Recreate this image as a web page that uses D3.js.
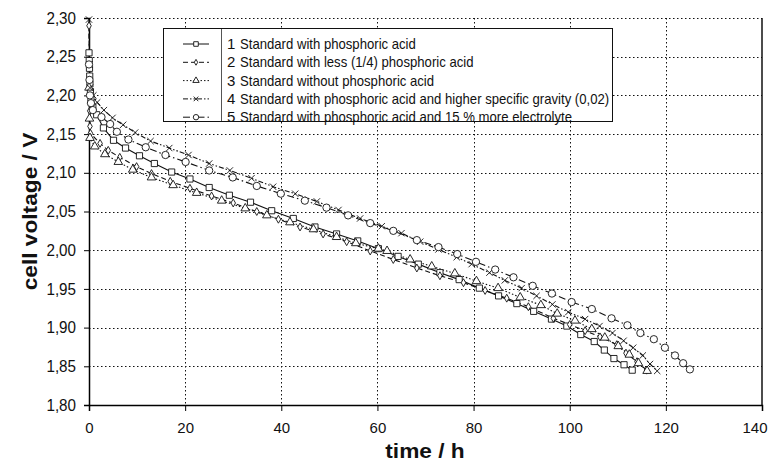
<!DOCTYPE html>
<html>
<head>
<meta charset="utf-8">
<script src="https://cdn.jsdelivr.net/npm/d3@7"></script>
<style>
    body { margin: 0; background: #fff; }
    text { font-family: Arial, "Liberation Sans", sans-serif; fill: #111; }
</style>
</head>
<body>
<svg width="774" height="463"></svg>
<script>
/////////////////////////////////
// Discharge curves: cell voltage over time.
//

const xTicks = [0, 20, 40, 60, 80, 100, 120, 140];
const yTicks = [1.80, 1.85, 1.90, 1.95, 2.00, 2.05, 2.10, 2.15, 2.20, 2.25, 2.30];

const legendLabels = [
    "Standard with phosphoric acid",
    "Standard with less (1/4) phosphoric acid",
    "Standard without phosphoric acid",
    "Standard with phosphoric acid and higher specific gravity (0,02)",
    "Standard with phosphoric acid and 15 % more electrolyte"
];

// [time h, voltage V]
const series1 = [[0,2.255],[0.05,2.245],[0.1,2.235],[0.15,2.225],[0.2,2.215],[0.3,2.205],[0.4,2.195],[0.8,2.185],[1.6,2.175],[3.0,2.158],[5.1,2.142],[7.6,2.132],[10.5,2.122],[13.6,2.112],[17.2,2.101],[21,2.092],[25,2.081],[29.2,2.071],[33.6,2.062],[38,2.051],[42.5,2.041],[47,2.030],[51.5,2.021],[55.9,2.012],[60.2,2.002],[64.3,1.992],[68.5,1.982],[73,1.971],[77,1.962],[81.2,1.951],[85.2,1.941],[89,1.931],[92.5,1.921],[96.2,1.911],[99.4,1.902],[102.3,1.891],[105.1,1.882],[107.2,1.871],[109.2,1.860],[111.3,1.852],[113,1.845]];
const series2 = [[0,2.29],[0.1,2.22],[0.15,2.18],[0.2,2.16],[0.3,2.151],[2.3,2.138],[4,2.129],[6.4,2.120],[9.9,2.108],[13,2.099],[16.9,2.089],[21,2.080],[25.5,2.070],[30,2.061],[34.9,2.050],[39.4,2.040],[43.9,2.030],[48.7,2.021],[53.6,2.011],[58.5,1.999],[63.3,1.988],[68.2,1.977],[73,1.967],[77.9,1.958],[82.4,1.948],[86.9,1.938],[91.4,1.927],[96.6,1.912],[100,1.904],[103.2,1.896],[106.3,1.888],[109.8,1.878],[111.7,1.867],[114,1.856],[116,1.845]];
const series3 = [[0,2.21],[0.1,2.17],[0.2,2.145],[1.2,2.134],[3.3,2.124],[6.1,2.114],[9.1,2.104],[13,2.094],[17.5,2.084],[22.4,2.074],[27.6,2.064],[32.5,2.054],[37,2.045],[41.8,2.036],[46.7,2.027],[51.5,2.017],[55.5,2.009],[60.2,2.002],[62,1.999],[66.8,1.988],[71.3,1.979],[76.1,1.970],[80.6,1.960],[85.1,1.951],[89.7,1.939],[94,1.929],[97.4,1.918],[101.1,1.909],[104.6,1.898],[107.3,1.887],[110.1,1.876],[112.4,1.865],[114.3,1.854],[116.1,1.844]];
const series4 = [[0,2.298],[0.1,2.24],[0.2,2.21],[0.9,2.200],[1.7,2.191],[3.1,2.181],[4.9,2.171],[7.1,2.162],[9.6,2.152],[12.8,2.141],[16.7,2.132],[20.7,2.123],[25,2.112],[29.3,2.103],[33.8,2.093],[38.3,2.082],[42.9,2.073],[47.4,2.063],[51.9,2.052],[56.4,2.041],[60.9,2.031],[65,2.022],[68.9,2.011],[72.7,2.001],[76.5,1.991],[79.6,1.982],[83.3,1.971],[86.5,1.961],[90,1.951],[93.1,1.941],[96.4,1.930],[99.7,1.920],[103.2,1.911],[106.2,1.902],[108.9,1.893],[111.2,1.883],[113.2,1.874],[115.2,1.864],[116.7,1.853],[118.2,1.844]];
const series5 = [[0,2.24],[0.1,2.22],[0.2,2.20],[0.4,2.19],[0.8,2.181],[2.6,2.172],[4.4,2.163],[5.8,2.153],[8.2,2.143],[11.8,2.133],[15.9,2.123],[20.1,2.114],[25,2.103],[29.9,2.094],[34.9,2.083],[39.9,2.073],[44.9,2.064],[49.4,2.055],[53.9,2.045],[58.5,2.035],[63.3,2.025],[68.2,2.013],[72.7,2.004],[76.6,1.995],[80.5,1.985],[84.5,1.975],[88.3,1.965],[92.3,1.954],[96.3,1.944],[100.4,1.933],[104.6,1.924],[108.7,1.912],[112,1.903],[114.7,1.893],[117.5,1.885],[119.8,1.874],[121.9,1.864],[123.6,1.854],[125,1.846]];

const allSeries = [series1, series2, series3, series4, series5];

// Line dash and marker per series.
const dashes = ["none", "5,3", "1.5,2", "5,2,1.5,2,1.5,2", "7,3,1.5,3"];
const symbolTypes = [d3.symbolSquare, d3.symbolDiamond, d3.symbolTriangle, d3.symbolTimes || d3.symbolX, d3.symbolCircle];
const symbolSizes = [38, 18, 32, 28, 42];

const svg = d3.select("svg");
const margin = { left: 89, right: 12, top: 18, bottom: 58 };
const width = 774;
const height = 463;

const x = d3.scaleLinear().domain([0, 140]).range([margin.left, width - margin.right]);
const y = d3.scaleLinear().domain([1.80, 2.30]).range([height - margin.bottom, margin.top]);

const fmt = (v) => d3.format(".2f")(v).replace(".", ",");

// Squeeze or stretch a text element to a share of its own width.
function scaleText(sel, factor) {

    sel.each(function () {

        const w = this.getComputedTextLength();
        d3.select(this)
            .attr("textLength", w * factor)
            .attr("lengthAdjust", "spacingAndGlyphs");
    });
}

// Grid (dotted).
svg.append("g")
    .selectAll("line")
    .data(yTicks.slice(1))
    .enter()
    .append("line")
    .attr("x1", x(0))
    .attr("x2", x(140))
    .attr("y1", (d) => Math.round(y(d)) + 0.5)
    .attr("y2", (d) => Math.round(y(d)) + 0.5)
    .style("stroke", "#111")
    .style("stroke-width", 1)
    .style("stroke-dasharray", "1.5,2.5");

svg.append("g")
    .selectAll("line")
    .data(xTicks.slice(1, -1))
    .enter()
    .append("line")
    .attr("x1", (d) => Math.round(x(d)) + 0.5)
    .attr("x2", (d) => Math.round(x(d)) + 0.5)
    .attr("y1", y(2.30))
    .attr("y2", y(1.80))
    .style("stroke", "#111")
    .style("stroke-width", 1)
    .style("stroke-dasharray", "1.5,2.5");

// Right border.
svg.append("line")
    .attr("x1", x(140)).attr("x2", x(140))
    .attr("y1", y(2.30)).attr("y2", y(1.80))
    .style("stroke", "#111").style("stroke-width", 1.5);

// Axes.
const xAxis = svg.append("g")
    .attr("transform", `translate(0,${y(1.80)})`)
    .call(d3.axisBottom(x).tickValues(xTicks).tickSize(6).tickFormat(d3.format("d")));
xAxis.select(".domain").style("stroke-width", 1.5);
xAxis.selectAll("text").style("font-size", "15px").attr("dy", "1.25em");
// Keep the last label inside the page.
xAxis.selectAll("text").filter((d) => d === 140)
    .attr("text-anchor", "end")
    .attr("x", 5);

const yAxis = svg.append("g")
    .attr("transform", `translate(${x(0)},0)`)
    .call(d3.axisLeft(y).tickValues(yTicks).tickSize(5).tickFormat(fmt));
yAxis.select(".domain").style("stroke-width", 1.5);
yAxis.selectAll("text").style("font-size", "16px").attr("x", -13);
scaleText(yAxis.selectAll("text"), 0.95);

// Titles.
const xTitle = svg.append("text")
    .attr("x", 425)
    .attr("y", 458)
    .attr("text-anchor", "middle")
    .style("font-size", "21px")
    .style("font-weight", "bold")
    .text("time / h");
scaleText(xTitle, 1.08);

const yTitle = svg.append("text")
    .attr("transform", `translate(37,${(y(1.80) + y(2.30)) / 2}) rotate(-90)`)
    .attr("text-anchor", "middle")
    .style("font-size", "21px")
    .style("font-weight", "bold")
    .text("cell voltage / V");
scaleText(yTitle, 1.08);

// Curves.
const line = d3.line().x((d) => x(d[0])).y((d) => y(d[1]));

allSeries.forEach((data, i) => {

    svg.append("path")
        .datum(data)
        .attr("d", line)
        .style("fill", "none")
        .style("stroke", "#111")
        .style("stroke-width", 1.1)
        .style("stroke-dasharray", dashes[i]);
});

allSeries.forEach((data, i) => {

    const symbol = d3.symbol().type(symbolTypes[i]).size(symbolSizes[i]);
    svg.append("g")
        .selectAll("path")
        .data(data)
        .enter()
        .append("path")
        .attr("transform", (d) => `translate(${x(d[0])},${y(d[1])})`)
        .attr("d", symbol)
        .style("fill", "#fff")
        .style("stroke", "#111")
        .style("stroke-width", 0.9);
});

// Legend.
const legend = svg.append("g");
legend.append("rect")
    .attr("x", 163.5).attr("y", 28.5)
    .attr("width", 449).attr("height", 93)
    .style("fill", "#fff")
    .style("stroke", "#111")
    .style("stroke-width", 1);

legend.append("line")
    .attr("x1", 221.5).attr("x2", 221.5)
    .attr("y1", 29).attr("y2", 121)
    .style("stroke", "#555")
    .style("stroke-width", 1);

legendLabels.forEach((label, i) => {

    const rowY = 44 + i * 18.3;
    legend.append("line")
        .attr("x1", 183).attr("x2", 209)
        .attr("y1", rowY).attr("y2", rowY)
        .style("stroke", "#111")
        .style("stroke-width", 1)
        .style("stroke-dasharray", dashes[i]);
    legend.append("path")
        .attr("transform", `translate(196,${rowY})`)
        .attr("d", d3.symbol().type(symbolTypes[i]).size(symbolSizes[i] * 0.55))
        .style("fill", "#fff")
        .style("stroke", "#111")
        .style("stroke-width", 0.9);
    legend.append("text")
        .attr("x", 227)
        .attr("y", rowY + 5)
        .style("font-size", "15px")
        .text(i + 1);
    const t = legend.append("text")
        .attr("x", 240)
        .attr("y", rowY + 5)
        .style("font-size", "15px")
        .text(label);
    scaleText(t, 0.875);
});
</script>
</body>
</html>
